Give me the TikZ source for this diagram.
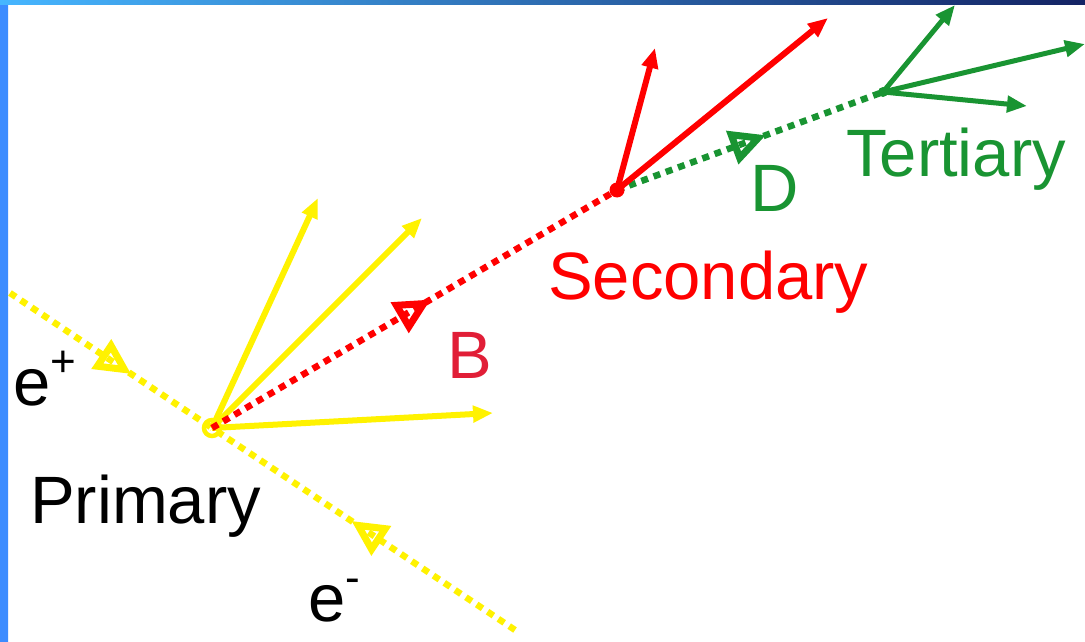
\documentclass[tikz,border=0pt]{standalone}
\usepackage{fontspec}
\setmainfont{Liberation Sans}
\usepackage{xcolor}
\usetikzlibrary{arrows.meta, decorations.markings}

\definecolor{secred}{RGB}{255,0,0}
\definecolor{bred}{RGB}{225,30,55}
\definecolor{tergreen}{RGB}{25,148,50}
\definecolor{edgeblue}{RGB}{60,140,255}
\definecolor{edgecyan}{RGB}{75,200,255}
\definecolor{edgenavy}{RGB}{20,35,100}

\newcommand{\supsign}[1]{\raisebox{0.42em}{\fontsize{44}{44}\selectfont #1}}

\begin{document}
\begin{tikzpicture}[x=1pt, y=-1pt,
    track/.style={line width=6pt, -{Triangle[length=20pt, width=16pt]}},
    flight/.style={line width=6.5pt, dash pattern=on 7pt off 6pt},
    midtip/.style={postaction={decorate, decoration={markings,
        mark=at position #1 with {\arrow[line width=7pt, solid]{Triangle[open, length=36pt, width=34pt]}}}}},
    lbl/.style={anchor=base west, inner sep=0pt, font=\fontsize{67}{72}\selectfont}
  ]
    \useasboundingbox (0,0) rectangle (1085,642);
    \fill[white] (0,0) rectangle (1085,642);
    % Frame
    \shade[top color=edgeblue, middle color=edgecyan, bottom color=edgeblue] (0,0) rectangle (8,642);
    \shade[left color=edgecyan!70!edgeblue, right color=edgenavy] (0,0) rectangle (1085,5);

    % Vertices
    \coordinate (prim) at (212,428);
    \coordinate (sec) at (617,190);
    \coordinate (ter) at (883,92);
    \coordinate (eplus) at (10,293);
    \coordinate (eminus) at (515,630);

    % Track ends
    \coordinate (y1) at (318,198);
    \coordinate (y2) at (422,218);
    \coordinate (y3) at (493,413);
    \coordinate (r1) at (655,48);
    \coordinate (r2) at (828,18);
    \coordinate (g1) at (955,5);
    \coordinate (g2) at (1085,44);
    \coordinate (g3) at (1027,106);

    % Beams
    \draw[yellow, flight, midtip=0.6] (eplus) -- (prim);
    \draw[yellow, flight, midtip=0.54] (eminus) -- (prim);

    % Primary tracks
    \draw[yellow, track] (prim) -- (y1);
    \draw[yellow, track] (prim) -- (y2);
    \draw[yellow, track] (prim) -- (y3);
    \draw[yellow, line width=4.5pt] (prim) circle (8pt);

    % B and D flight
    \draw[secred, flight, midtip=0.54] (prim) -- (sec);
    \draw[tergreen, flight, midtip=0.56] (sec) -- (ter);

    % Secondary tracks
    \draw[secred, track] (sec) -- (r1);
    \draw[secred, track] (sec) -- (r2);
    \fill[secred] (sec) circle (7.5pt);

    % Tertiary tracks
    \draw[tergreen, track, line width=5pt] (ter) -- (g1);
    \draw[tergreen, track, line width=5pt] (ter) -- (g2);
    \draw[tergreen, track, line width=5pt] (ter) -- (g3);
    \fill[tergreen] (ter) circle (5pt);

    % Labels
    \node[lbl] (lepl) at (13,405) {e\supsign{+}};
    \node[lbl] (lprim) at (30,523) {Primary};
    \node[lbl] (lemi) at (308,621) {e\supsign{-}};
    \node[lbl, text=bred] (lb) at (447,378) {B};
    \node[lbl, text=secred] (lsec) at (548,299) {Secondary};
    \node[lbl, text=tergreen] (ld) at (750,211) {D};
    \node[lbl, text=tergreen] (lter) at (846,176) {Tertiary};
\end{tikzpicture}
\end{document}
